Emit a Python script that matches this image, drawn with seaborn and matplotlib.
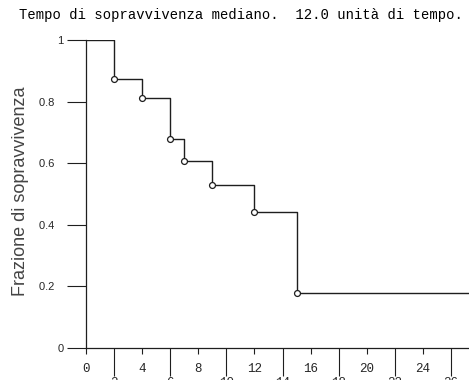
import matplotlib
matplotlib.use("Agg")
import matplotlib.pyplot as plt
import seaborn as sns
import pandas as pd
from matplotlib.ticker import FixedLocator, FixedFormatter

# Kaplan-Meier steps
event_times = [0, 2, 4, 6, 7, 9, 12, 15]
survival = [1.0, 0.875, 0.8125, 0.677, 0.606, 0.528, 0.44, 0.18]
end_time = 28
title_text = "Tempo di sopravvivenza mediano.  12.0 unità di tempo."
ylabel_text = "Frazione di sopravvivenza"
ytick_vals = [0, 0.2, 0.4, 0.6, 0.8, 1]
ytick_labels = ["0", "0.2   ", "0.4   ", "0.6   ", "0.8   ", "1"]
xmajor = [0, 4, 8, 12, 16, 20, 24]
xminor = [2, 6, 10, 14, 18, 22, 26]

sns.set_style("white")
plt.rcParams["font.family"] = ["Liberation Mono", "DejaVu Sans Mono"]

line_df = pd.DataFrame({"t": event_times + [end_time], "s": survival + [survival[-1]]})
pts = pd.DataFrame({"t": event_times[1:], "s": survival[1:]})

ink = "#1e1e1e"
fig = plt.figure(figsize=(4.69, 3.80), dpi=100)
ax = fig.add_axes([86 / 469, 1 - 348 / 380, 1 - 86 / 469, (348 - 40) / 380])

sns.lineplot(data=line_df, x="t", y="s", ax=ax, drawstyle="steps-post",
             color=ink, linewidth=1.0, estimator=None, sort=False)
sns.scatterplot(data=pts, x="t", y="s", ax=ax, marker="o", s=18,
                facecolor="white", edgecolor=ink, linewidth=0.9, zorder=5)

ax.set_xlim(0, 383 / 14.04)
ax.set_ylim(0, 1)
ax.set_xlabel("")
ax.set_ylabel(ylabel_text, family="Liberation Sans", fontsize=13, color="#444444")
ax.yaxis.set_label_coords(-0.150, 0.51)

for side in ["top", "right"]:
    ax.spines[side].set_visible(False)
for side in ["left", "bottom"]:
    ax.spines[side].set_color(ink)
    ax.spines[side].set_linewidth(0.9)

ax.set_yticks(ytick_vals)
ax.set_yticklabels(ytick_labels, fontsize=8, family="Liberation Sans")
ax.tick_params(axis="y", which="major", direction="out", length=14, width=0.8,
               color=ink, pad=2, left=True)

ax.xaxis.set_major_locator(FixedLocator(xmajor))
ax.xaxis.set_major_formatter(FixedFormatter([str(v) for v in xmajor]))
ax.xaxis.set_minor_locator(FixedLocator(xminor))
ax.xaxis.set_minor_formatter(FixedFormatter([str(v) for v in xminor]))
ax.tick_params(axis="x", which="major", direction="out", length=4, width=0.8,
               color=ink, pad=7, labelsize=9, bottom=True)
ax.tick_params(axis="x", which="minor", direction="out", length=20, width=0.8,
               color=ink, pad=1, labelsize=9, bottom=True)

fig.text(241 / 469, 1 - 15 / 380, title_text, ha="center", va="center",
         fontsize=10, color="#000000")

fig.savefig("out.png", dpi=100)
